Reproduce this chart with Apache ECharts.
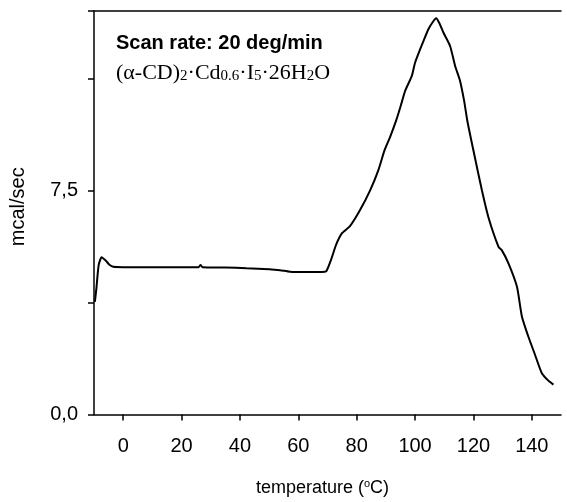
<!DOCTYPE html>
<html><head><meta charset="utf-8">
<script src="https://cdn.jsdelivr.net/npm/echarts@6/dist/echarts.min.js"></script>
<style>html,body{margin:0;padding:0;background:#fff}#c{width:567px;height:502px}</style>
</head><body><div id="c"></div>
<script>
// temperature (°C)
var temperature = [-9.7,-9.2,-8.4,-7.4,-6.0,-4.6,-3.4,0,10,20,25.8,26.5,27.2,35,42.3,50,53.7,57.1,63,69.1,69.7,71.3,72.9,74.9,77.7,81.1,84.6,87.4,89.5,91.5,93.5,95.1,96.6,98.9,100,102.9,104.6,106.2,107.2,108.3,109.7,112,113.7,115.4,116.8,117.9,120,122.9,125.1,128.6,129.7,132,134.9,136.6,138.8,141.1,143.4,145.5,147.4];
// heat flow (mcal/sec)
var heatFlow = [3.77,4.2,5.0,5.26,5.15,5.0,4.94,4.93,4.93,4.93,4.93,5.0,4.93,4.92,4.89,4.86,4.83,4.78,4.77,4.78,4.81,5.2,5.67,6.06,6.3,6.83,7.5,8.17,8.83,9.3,9.83,10.33,10.83,11.33,11.77,12.5,12.9,13.15,13.26,13.1,12.78,12.33,11.67,11.17,10.5,9.83,8.83,7.5,6.61,5.61,5.5,5.06,4.28,3.28,2.61,2.0,1.39,1.15,1.0];
var xTicks = [0,20,40,60,80,100,120,140];
var yLabels = {0:'0,0', 7.5:'7,5'};

var pts = temperature.map(function(t,i){return [t, heatFlow[i]];});
var chart = echarts.init(document.getElementById('c'));
chart.setOption({
  animation:false,
  backgroundColor:'#fff',
  grid:{left:93,right:6,top:11,bottom:87},
  xAxis:[{
    type:'value',min:-10,max:150,interval:10,
    axisLine:{show:true,onZero:false,lineStyle:{color:'#000',width:1.5}},
    axisTick:{show:true,inside:false,length:6,lineStyle:{color:'#000',width:1.5},
      customValues:xTicks},
    axisLabel:{show:true,margin:22,fontFamily:'Liberation Sans',fontSize:20,color:'#000',
      customValues:xTicks},
    splitLine:{show:false},
    name:'temperature ({s|o}C)',nameLocation:'middle',nameGap:64,
    nameTextStyle:{fontFamily:'Liberation Sans',fontSize:18,color:'#000',padding:[0,10,0,0],
      rich:{s:{fontFamily:'Liberation Sans',fontSize:11,color:'#000',verticalAlign:'top',padding:[0,0,8,0]}}}
  },{
    type:'value',position:'top',min:-10,max:150,
    axisLine:{show:true,onZero:false,lineStyle:{color:'#000',width:1.5}},
    axisTick:{show:false},axisLabel:{show:false},splitLine:{show:false}
  }],
  yAxis:{
    type:'value',min:0,max:13.5,interval:3.75,
    axisLine:{show:true,onZero:false,lineStyle:{color:'#000',width:1.5}},
    axisTick:{show:true,length:6,lineStyle:{color:'#000',width:1.5}},
    axisLabel:{margin:16,fontFamily:'Liberation Sans',fontSize:20,color:'#000',
      formatter:function(v){return yLabels[v]!==undefined?yLabels[v]:'';}},
    splitLine:{show:false},
    name:'mcal/sec',nameLocation:'middle',nameGap:66,nameRotate:90,
    nameTextStyle:{fontFamily:'Liberation Sans',fontSize:20,color:'#000',padding:[0,0,0,12]}
  },
  series:[{
    type:'line',data:pts,showSymbol:false,smooth:0.2,
    lineStyle:{color:'#000',width:2}
  }],
  graphic:[
    {type:'text',left:116,top:33,style:{text:'Scan rate: 20 deg/min',
      font:'bold 20px "Liberation Sans"',fill:'#000'}},
    {type:'text',left:116,top:62,style:{
      text:'(α-CD){sub|2}·Cd{sub|0.6}·I{sub|5}·26H{sub|2}O',
      font:'22px "Liberation Serif"',fill:'#000',
      rich:{sub:{fontFamily:'Liberation Serif',fontSize:15,verticalAlign:'bottom',padding:[7,0,0,0]}}}}
  ]
});
</script></body></html>
